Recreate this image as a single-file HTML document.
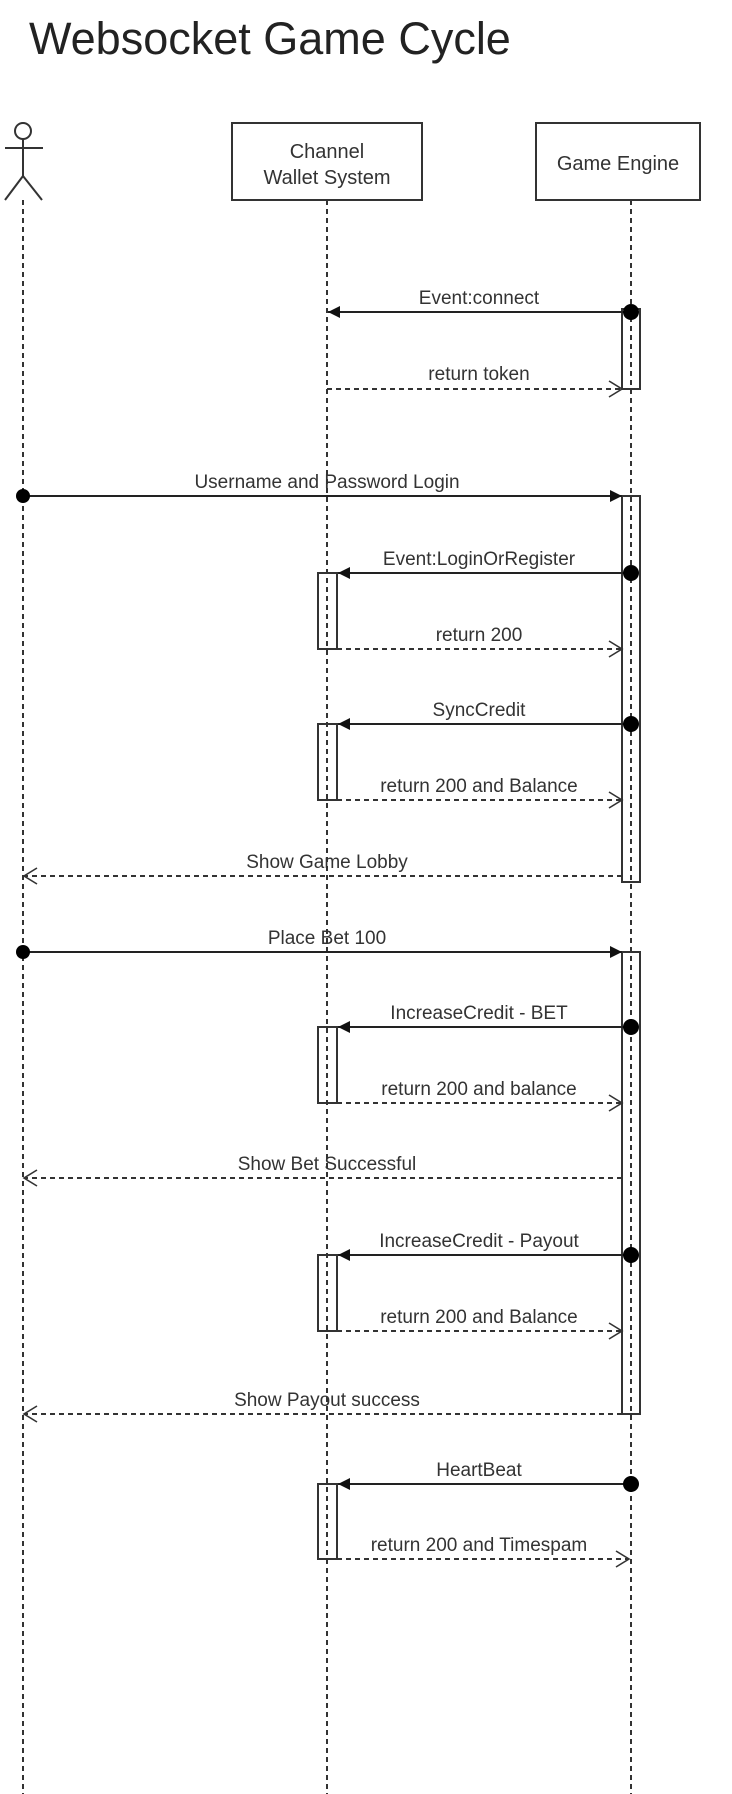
<!DOCTYPE html>
<html><head><meta charset="utf-8"><style>
html,body{margin:0;padding:0;background:#fff}
svg{display:block}
text{font-family:"Liberation Sans",Arial,sans-serif;fill:#333}
</style></head><body>
<svg width="732" height="1794" viewBox="0 0 732 1794" xmlns="http://www.w3.org/2000/svg">
<defs>
<marker id="fill" markerWidth="14" markerHeight="12" refX="12" refY="6" orient="auto" markerUnits="userSpaceOnUse"><path d="M0,0 L12,6 L0,12 Z" fill="#111"/></marker>
<marker id="open" markerWidth="16" markerHeight="18" refX="14" refY="9" orient="auto" markerUnits="userSpaceOnUse"><path d="M1,1 L14,9 L1,17" fill="none" stroke="#333" stroke-width="1.6"/></marker>
</defs>
<text x="29" y="54" font-size="45" style="fill:#222">Websocket Game Cycle</text>

<g stroke="#333" stroke-width="2" fill="none">
<circle cx="23" cy="131" r="8"/>
<line x1="23" y1="139" x2="23" y2="176"/>
<line x1="5" y1="148" x2="43" y2="148"/>
<line x1="23" y1="176" x2="5" y2="200"/>
<line x1="23" y1="176" x2="42" y2="200"/>
</g>
<rect x="232" y="123" width="190" height="77" fill="#fff" stroke="#333" stroke-width="2"/>
<text x="327" y="158" font-size="20" text-anchor="middle">Channel</text>
<text x="327" y="184" font-size="20" text-anchor="middle">Wallet System</text>
<rect x="536" y="123" width="164" height="77" fill="#fff" stroke="#333" stroke-width="2"/>
<text x="618" y="170" font-size="20" text-anchor="middle">Game Engine</text>

<g stroke="#333" stroke-width="2" stroke-dasharray="5 4">
<line x1="23" y1="200" x2="23" y2="1794"/>
<line x1="327" y1="200" x2="327" y2="1794"/>
<line x1="631" y1="200" x2="631" y2="1794"/>
</g>

<g fill="none" stroke="#333" stroke-width="2">
<rect x="622" y="309" width="18" height="80"/>
<rect x="622" y="496" width="18" height="386"/>
<rect x="622" y="952" width="18" height="462"/>
<rect x="318" y="573" width="19" height="76"/>
<rect x="318" y="724" width="19" height="76"/>
<rect x="318" y="1027" width="19" height="76"/>
<rect x="318" y="1255" width="19" height="76"/>
<rect x="318" y="1484" width="19" height="75"/>
</g>

<g stroke="#222" stroke-width="2">
<line x1="631" y1="312" x2="328" y2="312" marker-end="url(#fill)"/>
<line x1="23" y1="496" x2="622" y2="496" marker-end="url(#fill)"/>
<line x1="631" y1="573" x2="338" y2="573" marker-end="url(#fill)"/>
<line x1="631" y1="724" x2="338" y2="724" marker-end="url(#fill)"/>
<line x1="23" y1="952" x2="622" y2="952" marker-end="url(#fill)"/>
<line x1="631" y1="1027" x2="338" y2="1027" marker-end="url(#fill)"/>
<line x1="631" y1="1255" x2="338" y2="1255" marker-end="url(#fill)"/>
<line x1="631" y1="1484" x2="338" y2="1484" marker-end="url(#fill)"/>
</g>
<g fill="#000">
<circle cx="631" cy="312" r="8"/><circle cx="23" cy="496" r="7"/>
<circle cx="631" cy="573" r="8"/><circle cx="631" cy="724" r="8"/>
<circle cx="23" cy="952" r="7"/><circle cx="631" cy="1027" r="8"/>
<circle cx="631" cy="1255" r="8"/><circle cx="631" cy="1484" r="8"/>
</g>

<g stroke="#333" stroke-width="2" stroke-dasharray="5 4" fill="none">
<line x1="327" y1="389" x2="622" y2="389" marker-end="url(#open)"/>
<line x1="337" y1="649" x2="622" y2="649" marker-end="url(#open)"/>
<line x1="337" y1="800" x2="622" y2="800" marker-end="url(#open)"/>
<line x1="622" y1="876" x2="24" y2="876" marker-end="url(#open)"/>
<line x1="337" y1="1103" x2="622" y2="1103" marker-end="url(#open)"/>
<line x1="622" y1="1178" x2="24" y2="1178" marker-end="url(#open)"/>
<line x1="337" y1="1331" x2="622" y2="1331" marker-end="url(#open)"/>
<line x1="622" y1="1414" x2="24" y2="1414" marker-end="url(#open)"/>
<line x1="337" y1="1559" x2="629" y2="1559" marker-end="url(#open)"/>
</g>

<g font-size="19" text-anchor="middle">
<text x="479" y="304">Event:connect</text>
<text x="479" y="380">return token</text>
<text x="327" y="488">Username and Password Login</text>
<text x="479" y="565">Event:LoginOrRegister</text>
<text x="479" y="641">return 200</text>
<text x="479" y="716">SyncCredit</text>
<text x="479" y="792">return 200 and Balance</text>
<text x="327" y="868">Show Game Lobby</text>
<text x="327" y="944">Place Bet 100</text>
<text x="479" y="1019">IncreaseCredit - BET</text>
<text x="479" y="1095">return 200 and balance</text>
<text x="327" y="1170">Show Bet Successful</text>
<text x="479" y="1247">IncreaseCredit - Payout</text>
<text x="479" y="1323">return 200 and Balance</text>
<text x="327" y="1406">Show Payout success</text>
<text x="479" y="1476">HeartBeat</text>
<text x="479" y="1551">return 200 and Timespam</text>
</g>
</svg>
</body></html>
